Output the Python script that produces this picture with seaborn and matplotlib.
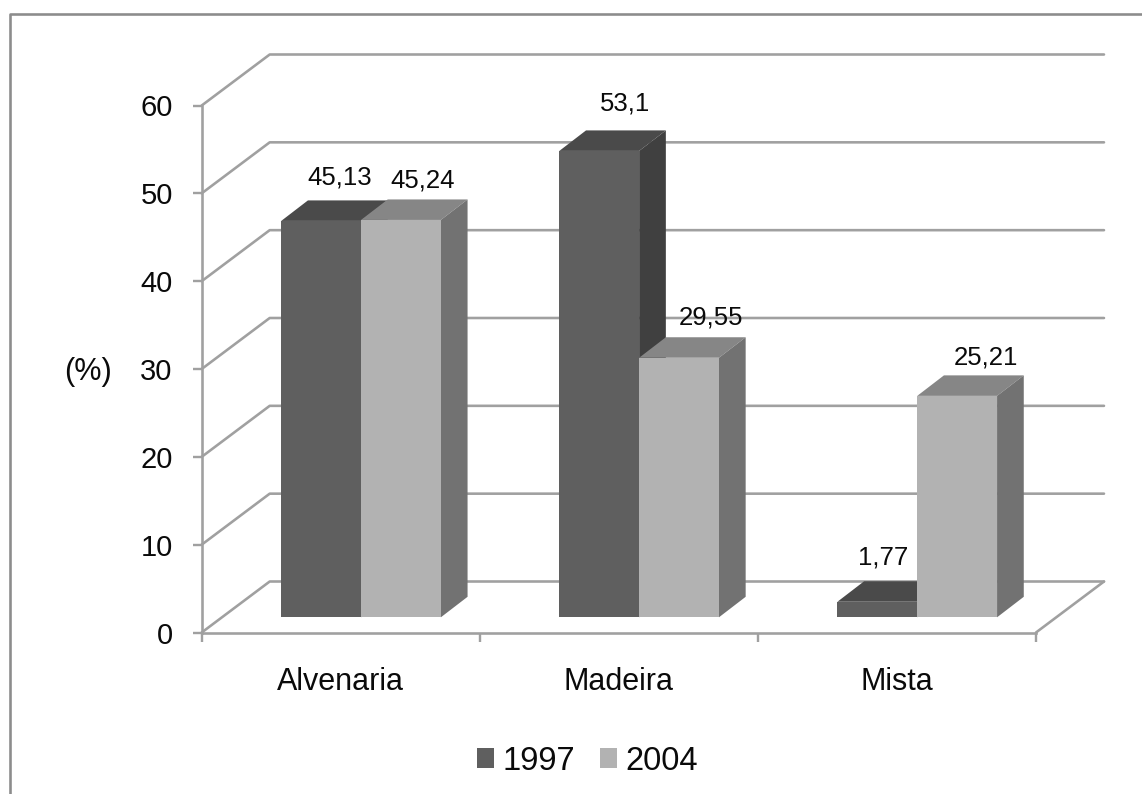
import matplotlib
matplotlib.use("Agg")
import matplotlib.pyplot as plt
from matplotlib.lines import Line2D
from matplotlib.patches import Polygon, Rectangle
from matplotlib.transforms import ScaledTranslation
import pandas as pd
import seaborn as sns

categories = ["Alvenaria", "Madeira", "Mista"]
values_1997 = [45.13, 53.1, 1.77]
values_2004 = [45.24, 29.55, 25.21]
years = ["1997", "2004"]
y_ticks = [0, 10, 20, 30, 40, 50, 60]

W, H, DPI = 1142, 794, 100
FRONT = {"1997": "#5f5f5f", "2004": "#b2b2b2"}
TOP = {"1997": "#4a4a4a", "2004": "#868686"}
SIDE = {"1997": "#404040", "2004": "#727272"}
GRID = "#a0a0a0"
EDGE = "#8c8c8c"
TEXT = "#0a0a0a"

sns.set_theme(style="white")
plt.rcParams["font.family"] = ["Liberation Sans", "DejaVu Sans"]


def px(d):
    """Convert a length in output pixels to points."""
    return d * 72 / DPI


frame = pd.DataFrame({
    "categoria": categories * 2,
    "ano": [years[0]] * 3 + [years[1]] * 3,
    "valor": values_1997 + values_2004,
})

fig = plt.figure(figsize=(W / DPI, H / DPI), dpi=DPI, facecolor="white")

# Outer chart frame: only the left and top edges are visible.
fig.add_artist(Line2D([9.7 / W, 9.7 / W, 1], [0, 1 - 14.2 / H, 1 - 14.2 / H],
                      color=EDGE, lw=px(2.6), transform=fig.transFigure))

x0, x1, y0, y1 = 201.7, 1036, 632.5, 105.5
ax = fig.add_axes([x0 / W, 1 - y0 / H, (x1 - x0) / W, (y0 - y1) / H])
ax.patch.set_alpha(0)

sns.barplot(data=frame, x="categoria", y="valor", hue="ano", hue_order=years,
            palette=FRONT, width=0.574, gap=0, saturation=1, legend=False, ax=ax,
            linewidth=0, clip_on=False)
ax.set_xlim(-0.5, 2.5)
ax.set_ylim(0, 60)
ax.set_xlabel("")
ax.set_ylabel("")
ax.set_yticks(y_ticks)
ax.set_xticks([-0.5, 0.5, 1.5, 2.5], minor=True)
ax.set_xticks([0, 1, 2], categories)
ax.tick_params(axis="y", which="major", length=px(9), width=px(2.4), color=GRID,
               labelsize=21, labelcolor=TEXT, pad=px(20), left=True)
ax.tick_params(axis="x", which="minor", length=px(9), width=px(2.4), color=GRID, bottom=True)
ax.tick_params(axis="x", which="major", length=0, labelsize=22, labelcolor=TEXT, pad=px(34))
for name in ("top", "right"):
    ax.spines[name].set_visible(False)
for name in ("left", "bottom"):
    ax.spines[name].set_color(GRID)
    ax.spines[name].set_linewidth(px(2.6))
    ax.spines[name].set_zorder(1)

# Unit label beside the value axis.
fig.text(88 / W, 1 - 372 / H, "(%)", fontsize=22, color=TEXT, ha="center", va="center")

# Back wall gridlines and floor, sheared away from the front axes plane.
wall_dx, wall_dy = 68.0, 51.0
units_per_px_x = 3 / (x1 - x0)
units_per_px_y = 60 / (y0 - y1)
wall_x = wall_dx * units_per_px_x
wall_y = wall_dy * units_per_px_y
line_style = dict(color=GRID, lw=px(2.6), zorder=0.5, clip_on=False)
for tick in y_ticks:
    ax.plot([-0.5, -0.5 + wall_x, 2.5 + wall_x], [tick, tick + wall_y, tick + wall_y], **line_style)
ax.plot([2.5, 2.5 + wall_x], [0, wall_y], **line_style)

# Each bar stands partway into the floor, with a top and a side face for depth.
bar_dx, bar_dy = 20.3, 15.2
depth_dx, depth_dy = 26.7, 20.5
shift_bar = ScaledTranslation(px(bar_dx) / 72, px(bar_dy) / 72, fig.dpi_scale_trans)
dep_x = depth_dx * units_per_px_x
dep_y = depth_dy * units_per_px_y

# Label offsets in pixels from the top of each front face.
label_offsets = [(19, 43), (26, 47), (6, 44), (22, 39), (32, 40), (29, 38)]

rects = list(ax.patches)
draw_order = [0, 3, 1, 4, 2, 5]
for rank, idx in enumerate(draw_order):
    rect = rects[idx]
    year = years[idx // 3]
    left, w, h = rect.get_x(), rect.get_width(), rect.get_height()
    right = left + w
    z = 3 + rank * 0.1
    rect.set_transform(ax.transData + shift_bar)
    rect.set_zorder(z + 0.02)
    for corners, colour in (
        ([(left, h), (left + dep_x, h + dep_y), (right + dep_x, h + dep_y), (right, h)], TOP[year]),
        ([(right, 0), (right + dep_x, dep_y), (right + dep_x, h + dep_y), (right, h)], SIDE[year]),
    ):
        ax.add_patch(Polygon(corners, closed=True, fc=colour, ec="none",
                             transform=ax.transData + shift_bar, zorder=z, clip_on=False))
    off_x, off_y = label_offsets[idx]
    ax.annotate(f"{h:g}".replace(".", ","), xy=(left + w / 2, h),
                xycoords=ax.transData + shift_bar,
                xytext=(px(off_x), px(off_y)), textcoords="offset points",
                ha="center", va="center", fontsize=18.5, color=TEXT,
                zorder=6, annotation_clip=False)

# Legend with small square handles beneath the axes.
handles = [Rectangle((0, 0), 1, 1, fc=FRONT[y], ec="none") for y in years]
fig.legend(handles, years, loc="center", bbox_to_anchor=(587.5 / W, 1 - 761 / H), ncol=2,
           frameon=False, fontsize=23.5, handlelength=0.53, handleheight=0.53,
           handletextpad=0.25, columnspacing=0.77, labelcolor=TEXT)

fig.savefig("out.png", dpi=DPI, facecolor="white")
